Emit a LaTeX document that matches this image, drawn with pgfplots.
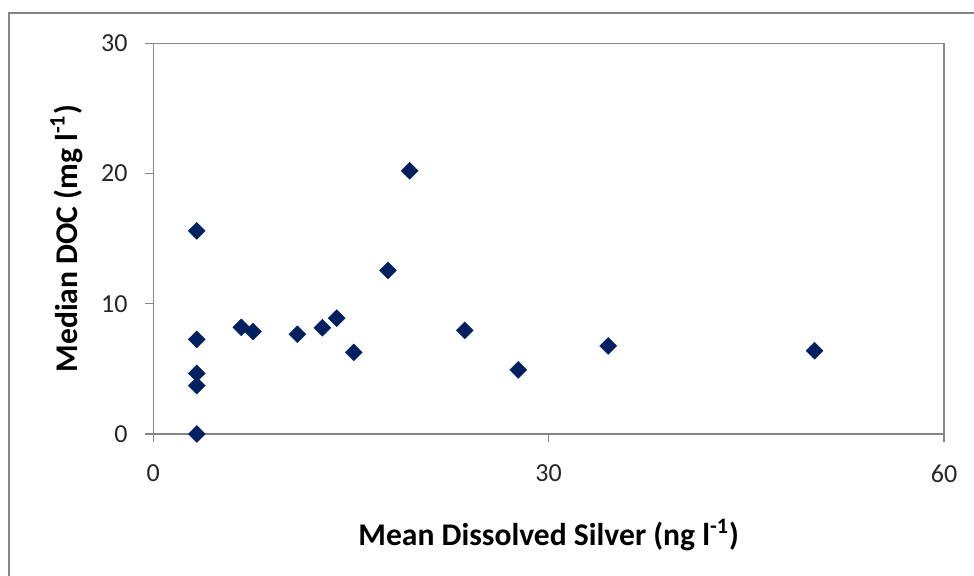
\documentclass[border=0pt]{standalone}
\usepackage{pgfplots}
\pgfplotsset{compat=1.18}
\usepackage{fontspec}
\setmainfont{Carlito}
\definecolor{mk}{HTML}{002060}
\definecolor{axc}{HTML}{868686}
\begin{document}
\begin{tikzpicture}
\useasboundingbox (-76.65bp,-71bp) rectangle (410.35bp,217bp);
\draw[axc, line width=0.85bp] (-72bp,-80bp) -- (-72bp,210.65bp) -- (420bp,210.65bp);
\begin{axis}[
  at={(0,0)}, anchor=south west,
  scale only axis, width=395.35bp, height=195.35bp,
  xmin=0, xmax=60, ymin=0, ymax=30,
  xtick={0,30,60}, ytick={0,10,20,30},
  xtick pos=bottom, ytick pos=left,
  tick align=outside, major tick length=4bp,
  axis line style={axc, line width=0.65bp},
  every tick/.style={axc, line width=0.65bp},
  ticklabel style={font=\fontsize{13bp}{15bp}\selectfont, text=black!85},
  /pgf/number format/assume math mode=true,
  yticklabel style={xshift=-5.4bp},
  xticklabel style={yshift=-8bp},
  xlabel={Mean Dissolved Silver (ng l\textsuperscript{-1})},
  ylabel={Median DOC (mg l\textsuperscript{-1})},
  label style={font=\bfseries\fontsize{15.8bp}{18bp}\selectfont},
  xlabel style={at={([yshift=-50.5bp]axis description cs:0.5,0)}, anchor=center},
  ylabel style={at={([xshift=-43.5bp]axis description cs:0,0.5)}, anchor=center, rotate=0},
  clip=false,
]
\addplot[only marks, mark=square*, mark size=3bp, mark options={rotate=45, fill=mk, draw=mk, line width=0.2bp}] coordinates {
(3.3,15.6) (3.3,7.27) (3.3,4.66) (3.3,3.71) (3.3,0)
(6.68,8.19) (7.57,7.86) (10.93,7.66) (12.83,8.16) (13.92,8.89)
(15.21,6.27) (17.81,12.57) (19.45,20.22) (23.63,7.96) (27.69,4.92)
(34.52,6.76) (50.18,6.4)
};
\end{axis}
\end{tikzpicture}
\end{document}
